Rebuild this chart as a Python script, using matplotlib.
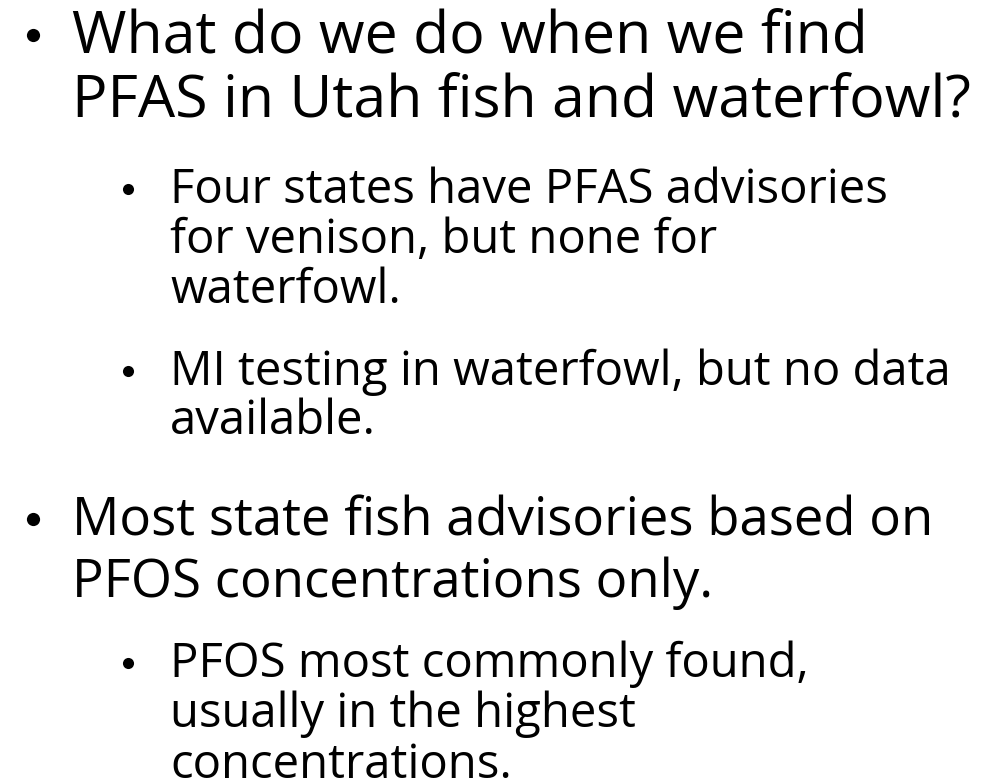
import matplotlib
matplotlib.use("Agg")
import matplotlib.pyplot as plt

# Slide content
bullets_level = [1, 2, 2, 1, 2]
bullets_lines = [
    ["What do we do when we find", "PFAS in Utah fish and waterfowl?"],
    ["Four states have PFAS advisories", "for venison, but none for", "waterfowl."],
    ["MI testing in waterfowl, but no data", "available."],
    ["Most state fish advisories based on", "PFOS concentrations only."],
    ["PFOS most commonly found,", "usually in the highest", "concentrations."],
]

# layout per paragraph: first baseline (px from top), font size, line spacing
first_baseline = [53, 203, 385, 535, 677]
font_sizes = [42.5, 34, 34, 38, 34]
line_spacing = [65, 50, 49, 62, 50.5]

W, H = 995, 783
fig = plt.figure(figsize=(W / 100, H / 100), dpi=100)
ax = fig.add_axes([0, 0, 1, 1])
ax.set_xlim(0, W)
ax.set_ylim(H, 0)
ax.axis("off")

indent = {1: dict(bullet_x=33, text_x=72, ms=9.5),
          2: dict(bullet_x=128, text_x=170, ms=8)}

for lvl, lines, y0, fs, sp in zip(bullets_level, bullets_lines,
                                  first_baseline, font_sizes, line_spacing):
    ind = indent[lvl]
    ax.plot(ind["bullet_x"], y0 - 0.42 * fs, "o", color="black",
            ms=ind["ms"], mew=0)
    for i, line in enumerate(lines):
        ax.text(ind["text_x"], y0 + i * sp, line, fontsize=fs,
                family="Open Sans", va="baseline", ha="left", color="black")

fig.savefig("out.png", dpi=100, facecolor="white")
